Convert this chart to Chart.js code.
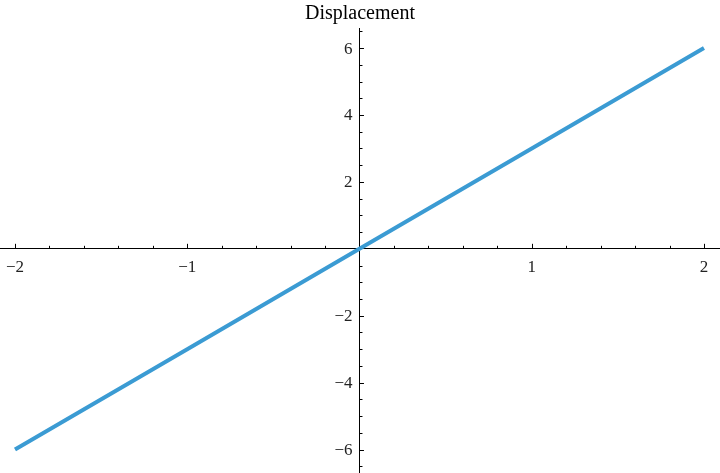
<!DOCTYPE html>
<html>
<head>
<meta charset="utf-8">
<script src="https://cdn.jsdelivr.net/npm/chart.js@4"></script>
<style>
  html, body { margin: 0; padding: 0; background: #fff; }
  #wrap { width: 720px; height: 473px; }
</style>
</head>
<body>
<div id="wrap"><canvas id="dispChart"></canvas></div>
<script>
// data
const timeValues = [-2, -1, 0, 1, 2];
const dispValues = [-6, -3, 0, 3, 6];
const xTicks = [-2, -1, 1, 2];
const yTicks = [-6, -4, -2, 2, 4, 6];

const FONT = "'Liberation Serif', 'DejaVu Serif', serif";

function fmt(v) {
    return v < 0 ? '\u2212' + Math.abs(v) : String(v);
}

// tick marks + labels drawn mathematica style (axes cross at the origin)
const axisTicks = {
    id: 'axisTicks',
    afterDraw(chart) {
        const ctx = chart.ctx;
        const xs = chart.scales.x, ys = chart.scales.y;
        const x0 = xs.getPixelForValue(0);
        const y0 = ys.getPixelForValue(0);
        ctx.save();
        ctx.strokeStyle = '#000';
        ctx.lineWidth = 1;
        ctx.beginPath();
        for (let i = -10; i <= 10; i++) {
            if (i === 0) continue;
            const px = Math.round(xs.getPixelForValue(i * 0.2)) + 0.5;
            const len = (i % 5 === 0) ? 5 : 3;
            ctx.moveTo(px, y0);
            ctx.lineTo(px, y0 - len);
        }
        for (let j = -13; j <= 13; j++) {
            if (j === 0) continue;
            const py = Math.round(ys.getPixelForValue(j * 0.5)) + 0.5;
            const len = (j % 4 === 0) ? 4.5 : 3;
            ctx.moveTo(x0, py);
            ctx.lineTo(x0 + len, py);
        }
        ctx.stroke();

        ctx.fillStyle = '#222';
        ctx.font = '17px ' + FONT;
        ctx.textBaseline = 'middle';
        ctx.textAlign = 'center';
        xTicks.forEach(v => {
            ctx.fillText(fmt(v), xs.getPixelForValue(v), y0 + 19);
        });
        ctx.textAlign = 'right';
        yTicks.forEach(v => {
            ctx.fillText(fmt(v), x0 - 7, ys.getPixelForValue(v) + 1);
        });
        ctx.restore();
    }
};

document.addEventListener('DOMContentLoaded', () => {
    const ctx = document.getElementById('dispChart').getContext('2d');
    new Chart(ctx, {
        type: 'line',
        data: {
            datasets: [{
                label: 'Displacement',
                data: timeValues.map((t, i) => ({ x: t, y: dispValues[i] })),
                borderColor: '#3b9bd3',
                borderWidth: 4,
                pointRadius: 0,
                fill: false,
                tension: 0
            }]
        },
        options: {
            responsive: true,
            maintainAspectRatio: false,
            animation: false,
            layout: { padding: 0 },
            plugins: {
                legend: { display: false },
                tooltip: { enabled: false },
                title: {
                    display: true,
                    text: 'Displacement',
                    color: '#000',
                    font: { family: FONT, size: 20, weight: 'normal' },
                    padding: { top: 2, bottom: 2 }
                }
            },
            scales: {
                x: {
                    type: 'linear',
                    position: { y: 0 },
                    min: -2.087,
                    max: 2.093,
                    afterBuildTicks: (s) => { s.ticks = xTicks.map(v => ({ value: v })); },
                    grid: { display: false, drawTicks: false },
                    border: { display: true, color: '#000', width: 1 },
                    ticks: { display: false }
                },
                y: {
                    type: 'linear',
                    position: { x: 0 },
                    min: -6.7,
                    max: 6.6,
                    afterBuildTicks: (s) => { s.ticks = yTicks.map(v => ({ value: v })); },
                    grid: { display: false, drawTicks: false },
                    border: { display: true, color: '#000', width: 1 },
                    ticks: { display: false }
                }
            }
        },
        plugins: [axisTicks]
    });
});
</script>
</body>
</html>
